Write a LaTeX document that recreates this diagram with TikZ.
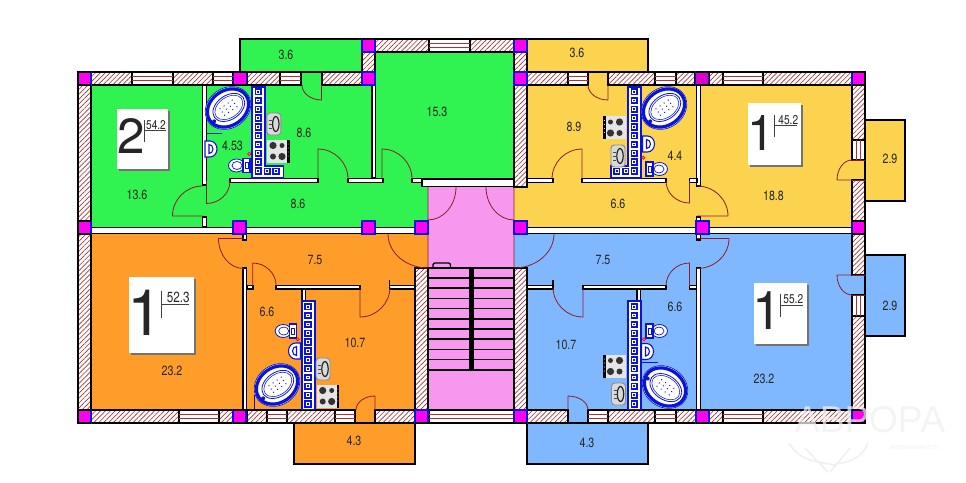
\documentclass[tikz,border=0pt]{standalone}
\usepackage{fontspec}
\setmainfont[FakeStretch=0.8]{TeX Gyre Heros}
\newfontfamily\markfont{Liberation Sans}
\newfontfamily\digitfont{TeX Gyre Heros}
\usepackage{xcolor}
\usetikzlibrary{patterns.meta,calc}

\definecolor{flatgreen}{RGB}{48,242,80}
\definecolor{flatyellow}{RGB}{251,211,78}
\definecolor{flatorange}{RGB}{255,157,42}
\definecolor{flatblue}{RGB}{128,184,255}
\definecolor{hallpink}{RGB}{245,152,238}
\definecolor{pillarpink}{RGB}{255,0,240}
\definecolor{brick}{RGB}{170,50,50}
\definecolor{doorred}{RGB}{140,30,40}
\definecolor{tileblue}{RGB}{10,20,210}
\definecolor{markgray}{RGB}{240,240,240}

\tikzset{
  wallhatch/.style={pattern={Lines[angle=45,distance=2.6pt,line width=0.5pt]},pattern color=brick,draw=black,line width=1.4pt},
  thinwall/.style={fill=white,draw=black,line width=1.3pt},
  balcony/.style={draw=black,line width=1.5pt},
  pillar/.style={fill=pillarpink,draw=tileblue,line width=0.8pt},
  doorline/.style={draw=doorred,line width=0.6pt},
  fixture/.style={draw=tileblue,line width=0.6pt,fill=white},
  roomlabel/.style={font=\fontsize{10}{11}\selectfont,text=black!85,inner sep=0pt},
  arealabel/.style={inner sep=0pt,text=black!85},
  platerule/.style={draw=black!75,line width=0.6pt},
}

\newcommand{\hatchwall}[4]{\fill[white] (#1,#2) rectangle (#3,#4); \draw[wallhatch] (#1,#2) rectangle (#3,#4);}
\newcommand{\winh}[4]{\draw[thinwall] (#1,#2) rectangle (#3,#4);
  \draw[brick,line width=0.7pt] (#1,{#2+4.6}) -- (#3,{#2+4.6}) (#1,{#2+8.4}) -- (#3,{#2+8.4});}
\newcommand{\winv}[4]{\draw[thinwall] (#1,#2) rectangle (#3,#4);
  \draw[brick,line width=0.7pt] ({#1+4.6},#2) -- ({#1+4.6},#4) ({#1+8.4},#2) -- ({#1+8.4},#4);}
% leaf along y, swing back to the hinge line
\newcommand{\doorv}[4]{\draw[doorline] (#1,#2) -- (#1,{#2+#4}) .. controls ({#1+.55*#3},{#2+#4}) and ({#1+#3},{#2+.55*#4}) .. ({#1+#3},#2);}
% leaf along x
\newcommand{\doorh}[4]{\draw[doorline] (#1,#2) -- ({#1+#3},#2) .. controls ({#1+#3},{#2+.55*#4}) and ({#1+.55*#3},{#2+#4}) .. (#1,{#2+#4});}
\newcommand{\tile}[2]{\fill[tileblue] ({#1-3.7},{#2-3.7}) rectangle ({#1+3.7},{#2+3.7});
  \fill[white] ({#1-1.9},{#2-1.9}) rectangle ({#1+1.9},{#2+1.9});
  \fill[tileblue] ({#1-0.9},{#2-0.9}) rectangle ({#1+0.9},{#2+0.9});}
\newcommand{\bathtub}[3]{\begin{scope}[shift={(#1,#2)},rotate=#3]
  \draw[fixture,line width=0.5pt] (0,0) ellipse [x radius=24,y radius=20];
  \draw[fixture,line width=2.4pt] (0,0) ellipse [x radius=22,y radius=17.5];
  \draw[fixture] (1,0) ellipse [x radius=17.5,y radius=12];
  \draw[tileblue,line width=0.4pt] (1,0) ellipse [x radius=15.5,y radius=10.2];
  \foreach \dotx in {-7,-2,3,8} \foreach \doty in {-4,0,4} \fill[tileblue] (\dotx,\doty) circle (0.7);
  \fill[tileblue] (-19,3) circle (2);
  \end{scope}}
\newcommand{\stovetop}[3]{\begin{scope}[shift={(#1,#2)},xscale=#3]
  \fill[white!90!black] (-11,-11.5) rectangle (9,11.5);
  \fill[black] (9,-11.5) rectangle (11.5,11.5);
  \foreach \doty in {-7,-3,1,5} \fill[white] (10.2,\doty) circle (0.5);
  \fill[black!80] (-5,-5.5) circle (3.6) (4,-5.5) circle (2.5) (-5,5.5) circle (3) (4,5.5) circle (3.6);
  \end{scope}}
\newcommand{\kitsink}[3]{\begin{scope}[shift={(#1,#2)},xscale=#3]
  \draw[fill=white!85!black,draw=black!45,line width=0.7pt,rounded corners=2.5] (-7,-11) rectangle (7,11);
  \draw[black!85,line width=0.9pt] (2,0) ellipse [x radius=3.2,y radius=7.5];
  \draw[black!70,line width=0.6pt] (-5,-4) -- (-2,-4) (-5,0) -- (-2,0) (-5,4) -- (-2,4);
  \end{scope}}
\newcommand{\toiletbowl}[3]{\begin{scope}[shift={(#1,#2)},xscale=#3]
  \draw[fixture] (-3.5,0) ellipse [x radius=8,y radius=6.5];
  \draw[tileblue,line width=0.5pt] (-3,0) ellipse [x radius=5,y radius=4];
  \draw[fixture,line width=0.8pt] (3,-7) rectangle (10,7);
  \draw[tileblue,line width=0.5pt] (5,-3) rectangle (8,3);
  \end{scope}}
\newcommand{\basin}[3]{\begin{scope}[shift={(#1,#2)},xscale=#3]
  \draw[fixture,line width=0.8pt] (-6,-8) -- (-1,-8) arc[start angle=-90,end angle=90,x radius=7,y radius=8] -- (-6,8) -- cycle;
  \draw[tileblue,line width=0.8pt] (-2,-4.5) arc[start angle=-90,end angle=90,x radius=4,y radius=4.5] -- cycle;
  \end{scope}}
\newcommand{\flatplate}[4]{\fill[black!55] ({#1+1.5},{#2+1.5}) rectangle ({#3+1.5},{#4+1.5}); \fill[white] (#1,#2) rectangle (#3,#4);}

\begin{document}
\begin{tikzpicture}[x=0.75pt,y=0.75pt,yscale=-1,xscale=1]
\useasboundingbox (0,0) rectangle (966,482);

%Shape: room fills
\fill[flatgreen] (91,85) rectangle (428,227);
\fill[flatgreen] (375,52) rectangle (514,187);
\fill[flatyellow] (514,85) rectangle (852,227);
\fill[flatorange] (91,234) rectangle (428,410);
\fill[flatblue] (514,234) rectangle (852,410);
\fill[hallpink] (428,187) rectangle (514,410);
%door gaps towards the balconies
\fill[flatgreen] (301,72) rectangle (322,85);
\fill[flatyellow] (588,72) rectangle (608,85);
\fill[flatyellow] (852,160) rectangle (865,180);
\fill[flatblue] (852,275) rectangle (865,295);
\fill[flatorange] (355,410) rectangle (375,423);
\fill[flatblue] (568,410) rectangle (588,423);

%Shape: balconies
\draw[balcony,fill=flatgreen] (240,39) rectangle (362,72);
\draw[balcony,fill=flatyellow] (527,39) rectangle (648,72);
\draw[balcony,fill=flatyellow] (865,120) rectangle (905,201);
\draw[balcony,fill=flatblue] (865,255) rectangle (905,336);
\draw[balcony,fill=flatorange] (294,423) rectangle (415,464);
\draw[balcony,fill=flatblue] (527,423) rectangle (648,464);

%Shape: stairs
\foreach \tread in {0,...,10} \draw[black,line width=1.2pt] (428,{267.7+10.2*\tread}) -- (514,{267.7+10.2*\tread});
\fill[black] (469.3,268) rectangle (473.5,369.5);
\draw[black,line width=1pt,rounded corners=1.5] (433,268) -- (433,263) -- (450.5,263) -- (450.5,268);

%Shape: hatched walls
\foreach \xa/\xb in {91/132,173/213,247/280,322/362,527/568,608/655,676/695,709/723,763/852} \hatchwall{\xa}{72}{\xb}{85};
\foreach \xa/\xb in {375/429,470/514} \hatchwall{\xa}{39}{\xb}{52};
\foreach \xa/\xb in {91/179,219/233,247/267,287/335,375/415,527/568,608/655,676/696,709/723,763/852} \hatchwall{\xa}{410}{\xb}{423};
\foreach \xa/\ya/\yb in {78/85/222,78/234/410,852/85/140,852/180/222,852/234/275,852/316/410,362/52/72,514/52/72,514/85/187,415/268/410,514/268/410} \hatchwall{\xa}{\ya}{\xa+13}{\yb};

%Shape: windows
\foreach \xa/\xb in {132/173,213/233,280/301,568/588,655/676,723/763} \winh{\xa}{72}{\xb}{85};
\winh{429}{39}{470}{52};
\foreach \xa/\xb in {179/219,267/287,335/355,429/514,588/608,655/676,723/763} \winh{\xa}{410}{\xb}{423};
\winv{852}{140}{865}{160};
\winv{852}{295}{865}{316};

%Shape: thin partition walls
\draw[thinwall] (91,227.5) rectangle (415,233.5);
\draw[thinwall] (527,227.5) rectangle (852,233.5);
\draw[thinwall] (422,179) rectangle (514,186.5);
\foreach \xa/\ya/\xb/\yb in {202.5/85/206.5/185,202.5/217/206.5/227,372/85/375.5/178,696.5/85/700.5/186,696.5/217/700.5/227,
  230/178.5/318/182.5,348/178.5/383/182.5,412/178.5/422/182.5,527/178.5/553/182.5,582/178.5/666/182.5,689.5/178.5/697/182.5,
  243/268/246.5/410,243/234/246.5/240,696.5/268/700.5/410,696.5/234/700.5/240,
  247/285.5/253/289,276/285.5/360/289,389.5/285.5/415/289,527/285.5/553/289,583/285.5/666/289,689.5/285.5/696.5/289,
  302/289/305.5/301,637/289/640.5/301}
  \draw[thinwall] (\xa,\ya) rectangle (\xb,\yb);
\draw[black,line width=1pt] (389.5,280) -- (389.5,286) (553,280) -- (553,286);

%Shape: pillars
\foreach \xa/\ya in {78/72,233.5/72,362/39,362/72,514/39,514/72,852/72,78/221,233/221,362/221,415/221,514/221,696/221,852/221,78/410,233/410,415/410,514/410,696/410,852/410}
  \draw[pillar] (\xa,\ya) rectangle (\xa+13,\ya+13);
\draw[pillar,fill=pillarpink!85!black] (695.5,72) rectangle (708.5,85);
\foreach \ya in {72,85,221,234,410,423} \foreach \xa/\xb in {78/91,852/865} \draw[black,line width=1.4pt] (\xa,\ya) -- (\xb,\ya);
\draw[black,line width=1.4pt] (78,71.3) -- (78,423.7) (865,71.3) -- (865,423.7);
\draw[black,line width=1.4pt] (362,39) -- (527,39) (415,423) -- (527,423) (233,72) -- (247,72) (233,85) -- (247,85) (233,410) -- (247,410) (233,423) -- (247,423) (696,72) -- (709,72) (696,85) -- (709,85) (696,410) -- (709,410) (696,423) -- (709,423);

%Shape: door leaves
\doorv{321.5}{85}{-19.5}{15}
\doorv{206.5}{181}{23.5}{22.5}
\doorh{202.5}{216}{-30}{-30}
\doorv{318}{179}{30}{-30}
\doorv{382}{179}{30}{-30}
\doorv{428}{187}{28}{33}
\doorv{514}{187}{-28}{33}
\doorv{608}{85}{-20}{15}
\doorv{582}{179}{-30}{-30}
\doorv{689.5}{181}{-23.5}{22}
\doorh{697}{216}{31}{-30}
\doorh{852}{180}{-15}{-20}
\draw[doorline] (852,180) -- (865,180) (852,160) -- (865,160);
\doorh{243.5}{238.5}{-25}{30}
\doorv{252.7}{286}{23.5}{-23}
\doorv{360}{287}{30}{30}
\doorv{428}{234}{-40}{34}
\doorv{375}{410}{-19}{-14}
\doorv{514}{234}{40}{34}
\doorv{583}{287}{-30}{30}
\doorv{689.5}{286}{-23.5}{-23}
\doorh{697}{238.5}{32}{30}
\doorv{568}{410}{20}{-14}
\doorh{852}{275}{-15}{20}
\draw[doorline] (852,275) -- (865,275) (852,295) -- (865,295);

%Shape: tiled shafts
\draw[fixture,line width=1.2pt] (251.7,86.7) -- (265,86.7) -- (265,166) -- (283.3,166) -- (283.3,178) -- (251.7,178) -- cycle;
\draw[fixture,line width=1.2pt] (641,86.7) -- (627.7,86.7) -- (627.7,166) -- (610.7,166) -- (610.7,178) -- (641,178) -- cycle;
\draw[fixture,line width=1.2pt] (301.7,301) rectangle (315,409.5);
\draw[fixture,line width=1.2pt] (627.7,301) rectangle (640.7,409.5);
\foreach \tilen in {0,...,9} { \tile{258.3}{91.7+8.8*\tilen} \tile{634.3}{91.7+8.8*\tilen} }
\tile{267.3}{171.3} \tile{276}{171.3} \tile{616.7}{171.3} \tile{625.7}{171.3}
\foreach \tilen in {0,...,11} { \tile{308}{306.7+8.85*\tilen} \tile{634.3}{306.7+8.85*\tilen} }

%Shape: baths, basins and kitchen fittings
\bathtub{228}{108}{-35}
\bathtub{664}{108}{-35}
\bathtub{277}{385}{-35}
\bathtub{665}{387}{35}
\draw[tileblue,line width=0.5pt] (206,133) -- (222,133) (642,362.5) -- (658,362.5) (254,395) -- (254,409);
\stovetop{278}{151}{1}
\stovetop{614.5}{127.5}{-1}
\stovetop{327.7}{396}{1}
\stovetop{614.5}{366}{-1}
\kitsink{273.8}{124}{1}
\kitsink{618}{156}{1}
\kitsink{323}{369}{1}
\kitsink{618.5}{394}{1}
\toiletbowl{240}{165.5}{1}
\toiletbowl{656}{169}{-1}
\toiletbowl{286.7}{331}{1}
\toiletbowl{656}{331}{-1}
\basin{211}{149}{1}
\basin{648.5}{144}{1}
\basin{294.5}{351}{-1}
\basin{647.5}{351.5}{1}
\foreach \xa/\ya in {249.3/154,643.3/157.7,297.7/339.3,644/339.3} \draw[red,fill=white!60!red,line width=0.5pt] (\xa,\ya) circle (1.6);

%Shape: area plates
\flatplate{117}{109}{168}{169}
\flatplate{748}{103}{801}{165}
\flatplate{129}{277}{194}{353}
\flatplate{754}{283}{807}{344}
\node[arealabel,font=\digitfont\fontsize{37}{40}\selectfont] (digitgreen) at (131,136) {2};
\node[arealabel,font=\digitfont\fontsize{37}{40}\selectfont] (digityellow) at (761,133) {1};
\node[arealabel,font=\digitfont\fontsize{48}{50}\selectfont] (digitorange) at (145,313) {1};
\node[arealabel,font=\digitfont\fontsize{40}{42}\selectfont] (digitblue) at (767,311) {1};
\node[arealabel,font=\fontsize{9.5}{10}\selectfont] (areagreen) at (156,125) {54.2};
\node[arealabel,font=\fontsize{9.5}{10}\selectfont] (areayellow) at (788.3,120) {45.2};
\node[arealabel,font=\fontsize{11}{12}\selectfont] (areaorange) at (178.3,297.3) {52.3};
\node[arealabel,font=\fontsize{9.5}{10}\selectfont] (areablue) at (793.3,299.3) {55.2};
\draw[platerule] (144,120) -- (144,141.7) (144,130) -- (166,130);
\draw[platerule] (774.3,115) -- (774.3,137.3) (774.3,125.7) -- (796.7,125.7);
\draw[platerule] (161.7,290.7) -- (161.7,318) (161.7,304) -- (189.3,304);
\draw[platerule] (780,294.3) -- (780,316.7) (780,305) -- (802.7,305);

%Shape: room labels
\node[roomlabel] (balcgreen) at (286,55) {3.6};
\node[roomlabel] (roomgreena) at (137,195) {13.6};
\node[roomlabel] (bathgreen) at (232.5,145.5) {4.53};
\node[roomlabel] (kitgreen) at (304,133) {8.6};
\node[roomlabel] (corrgreen) at (298,204) {8.6};
\node[roomlabel] (roomgreenb) at (437,112) {15.3};
\node[roomlabel] (balcyellow) at (577,53) {3.6};
\node[roomlabel] (kityellow) at (574,127) {8.9};
\node[roomlabel] (bathyellow) at (675,156) {4.4};
\node[roomlabel] (corryellow) at (618,204) {6.6};
\node[roomlabel] (roomyellow) at (773.5,196) {18.8};
\node[roomlabel] (sideyellow) at (890,159) {2.9};
\node[roomlabel] (corrorange) at (315,260) {7.5};
\node[roomlabel] (bathorange) at (267,312) {6.6};
\node[roomlabel] (kitorange) at (355,343) {10.7};
\node[roomlabel] (roomorange) at (172,371) {23.2};
\node[roomlabel] (balcorange) at (354,441) {4.3};
\node[roomlabel] (corrblue) at (603,260) {7.5};
\node[roomlabel] (bathblue) at (675,307) {6.6};
\node[roomlabel] (kitblue) at (566,345) {10.7};
\node[roomlabel] (roomblue) at (764,379) {23.2};
\node[roomlabel] (balcblue) at (587,443) {4.3};
\node[roomlabel] (sideblue) at (890,306) {2.9};

%watermark
\node[inner sep=0pt,text=markgray,opacity=0.75,font=\markfont\fontsize{28}{28}\selectfont] (markname) at (870,420) {АВРОРА};
\node[inner sep=0pt,text=markgray,font=\markfont\fontsize{5.5}{6}\selectfont] (marksub) at (914,448) {недвижимость};
\draw[markgray,line width=1.2pt] (789,443) .. controls (800,462) and (820,462) .. (835,465) (868,443) .. controls (860,462) and (845,462) .. (832,465) (805,448) -- (828,472) (850,448) -- (830,472);
\end{tikzpicture}
\end{document}
